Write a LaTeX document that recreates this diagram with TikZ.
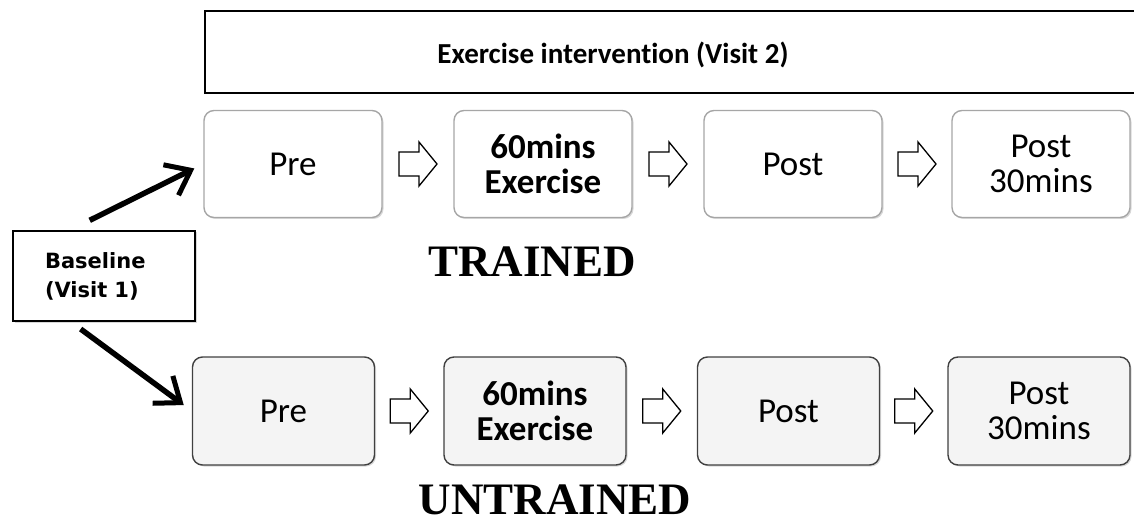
\documentclass[tikz,border=0pt]{standalone}
\usepackage{fontspec}
\setmainfont[Ligatures=NoCommon]{Carlito}
\newfontfamily\timesfont{Liberation Serif}
\newfontfamily\tahomafont{DejaVu Sans}
\usetikzlibrary{calc,arrows.meta,shadows}

\tikzset{
  stagebox/.style={draw=gray!70, line width=1.4pt, rounded corners=10pt, fill=white,
    minimum width=178pt, minimum height=107pt, align=center, inner sep=0pt,
    font=\fontsize{35}{35}\selectfont,
    drop shadow={shadow xshift=1.5pt, shadow yshift=-1.5pt, fill=gray!60}},
  stagegrey/.style={stagebox, draw=black!75, fill=gray!9, minimum width=182pt, minimum height=108pt},
  groupname/.style={font=\timesfont\bfseries\fontsize{45}{45}\selectfont},
  splitarrow/.style={line width=5.5pt, -{Straight Barb[length=22pt,width=34pt,line width=5pt]}},
  pics/openarrow/.style={code={
    \draw[line width=1.3pt, fill=white, line join=miter]
      (-19,-12) -- (1,-12) -- (1,-22) -- (19,0) -- (1,22) -- (1,12) -- (-19,12) -- cycle;}}
}

\begin{document}
\begin{tikzpicture}[x=1pt,y=-1pt]
\useasboundingbox (0,0) rectangle (1134,526);
%visit 2 banner
\node[draw, line width=1.8pt, fill=white, minimum width=1000pt, minimum height=82pt, anchor=north west,
  drop shadow={shadow xshift=1.5pt, shadow yshift=-1.5pt, fill=gray!60}] (visit2) at (204,10) {};
\node[font=\bfseries\fontsize{29}{30}\selectfont] (visit2txt) at (613,55) {Exercise intervention (Visit 2)};

\node[draw, line width=1.8pt, fill=white, minimum width=182pt, minimum height=90pt, inner sep=0pt,
  text width=118pt, align=left, font=\tahomafont\bfseries\fontsize{21}{29}\selectfont,
  drop shadow={shadow xshift=1.5pt, shadow yshift=-1.5pt, fill=gray!60}] (base) at (104,276) {Baseline\\(Visit 1)};

%trained
\node[stagebox] (pre1) at (293,164) {Pre};
\node[stagebox, font=\bfseries\fontsize{35}{35}\selectfont] (ex1) at (543,164) {60mins\\Exercise};
\node[stagebox] (post1) at (793,164) {Post};
\node[stagebox] (late1) at (1041,164) {Post\\30mins};
\node[groupname] (trained) at (532,262) {TRAINED};

%untrained
\node[stagegrey] (pre2) at (283.5,411) {Pre};
\node[stagegrey, font=\bfseries\fontsize{35}{35}\selectfont] (ex2) at (535,411) {60mins\\Exercise};
\node[stagegrey] (post2) at (788.5,411) {Post};
\node[stagegrey] (late2) at (1039,411) {Post\\30mins};
\node[groupname] (untrained) at (555,500) {UNTRAINED};

\path (pre1.east) -- (ex1.west) coordinate[midway] (a1)
      (ex1.east) -- (post1.west) coordinate[midway] (a2)
      (post1.east) -- (late1.west) coordinate[midway] (a3)
      (pre2.east) -- (ex2.west) coordinate[midway] (b1)
      (ex2.east) -- (post2.west) coordinate[midway] (b2)
      (post2.east) -- (late2.west) coordinate[midway] (b3);
\pic at (a1) {openarrow};
\pic at (a2) {openarrow};
\pic at (a3) {openarrow};
\pic at (b1) {openarrow};
\pic at (b2) {openarrow};
\pic at (b3) {openarrow};

\draw[splitarrow, shorten <=22pt, shorten >=10pt] ($(base.north)+(-34,0)$) -- (pre1.west);
\draw[splitarrow, shorten <=12pt, shorten >=10pt] ($(base.south)+(-33,0)$) -- (pre2.west);
\end{tikzpicture}
\end{document}
